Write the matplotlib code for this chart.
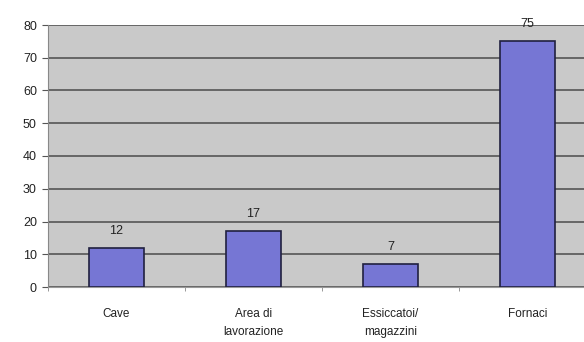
import numpy as np
import matplotlib.pyplot as plt

plt.rcParams['font.family'] = ['Liberation Sans', 'DejaVu Sans']

# Dati
categorie = ['Cave', 'Area di\nlavorazione', 'Essiccatoi/\nmagazzini', 'Fornaci']
valori = [12, 17, 7, 75]
tick_y = [0, 10, 20, 30, 40, 50, 60, 70, 80]

fig = plt.figure(figsize=(5.84, 3.42), dpi=100)
ax = fig.add_axes([48 / 584, 55 / 342, 548 / 584, 262 / 342])
ax.set_facecolor('#c9c9c9')

x = np.arange(len(categorie))
bars = ax.bar(x, valori, width=0.4, color='#7676d4', edgecolor='#202040',
              linewidth=1.2, zorder=3)

for b, v in zip(bars, valori):
    ax.annotate(str(v), (b.get_x() + b.get_width() / 2, b.get_height()),
                xytext=(0, 8), textcoords='offset points',
                ha='center', va='bottom', fontsize=9, color='#222222')

ax.set_xlim(-0.5, len(categorie) - 0.5)
ax.set_ylim(0, 80)
ax.set_yticks(tick_y)
ax.yaxis.grid(True, color='#555555', linewidth=1.2, zorder=1)
ax.set_xticks(x)
ax.set_xticklabels(categorie, fontsize=8.5, color='#222222', linespacing=1.7)
ax.set_xticks(np.arange(len(categorie) + 1) - 0.5, minor=True)
ax.tick_params(axis='x', which='major', length=0, pad=15)
ax.tick_params(axis='x', which='minor', length=3, color='#888888')
ax.tick_params(axis='y', length=4, color='#555555', labelsize=9,
               labelcolor='#222222', pad=4)

for s in ['top', 'right']:
    ax.spines[s].set_visible(False)
ax.spines['left'].set_color('#888888')
ax.spines['bottom'].set_color('#999999')

plt.savefig('out.png', dpi=100)
